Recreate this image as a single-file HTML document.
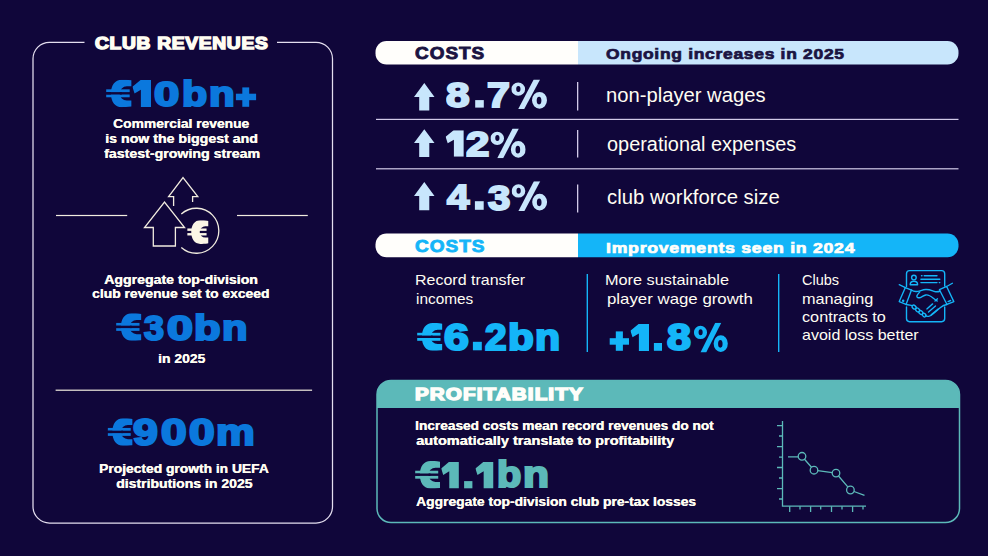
<!DOCTYPE html>
<html><head><meta charset="utf-8">
<style>
html,body{margin:0;padding:0;background:#10063a;}
body{width:988px;height:556px;background:#10063a;position:relative;overflow:hidden;font-family:"Liberation Sans",sans-serif;color:#fffdf2;font-weight:bold;}
.a{position:absolute;white-space:nowrap;}
</style></head><body>

<svg id="shapes_left" class="a" style="left:0;top:0" width="988" height="556">
  <path d="M84.5,42.3 H49.5 A16.5,16.5 0 0 0 33,58.8 V506.5 A16.5,16.5 0 0 0 49.5,523 H316 A16.5,16.5 0 0 0 332.5,506.5 V58.8 A16.5,16.5 0 0 0 316,42.3 H277" fill="none" stroke="#e4deef" stroke-width="1.25"/>
  <g fill="#f1ecdf">
    <rect x="56" y="214.9" width="71.2" height="1.2"/>
    <rect x="237" y="214.9" width="70.8" height="1.2"/>
    <rect x="55.6" y="389.6" width="256.5" height="1.2"/>
  </g>
  <g fill="none" stroke="#f1ecdf" stroke-width="1.3">
    <path d="M173.6,206 V196.6 H168.6 L183,177.5 L197.8,196.6 H192.6 V202"/>
    <path d="M181.3,214 A22.5,22.5 0 1 1 181.3,247.5"/>
    <path d="M153.3,246 V227.5 H144.5 L164.5,202 L184.6,227.5 H175.4 V246 Z"/>
  </g>
</svg>

<svg id="bar1" class="a" style="left:0;top:0" width="988" height="556">
  <defs><clipPath id="cp1"><rect x="375.5" y="41" width="583" height="23.5" rx="11"/></clipPath>
  <clipPath id="cp2"><rect x="375.5" y="233.5" width="583" height="23.8" rx="11"/></clipPath></defs>
  <g clip-path="url(#cp1)"><rect x="375" y="40" width="203" height="26" fill="#fffefb"/><rect x="578" y="40" width="382" height="26" fill="#c8e6fc"/></g>
  <g clip-path="url(#cp2)"><rect x="375" y="232" width="203" height="27" fill="#fffefb"/><rect x="578" y="232" width="382" height="27" fill="#14b5f8"/></g>
</svg>

<svg id="rows" class="a" style="left:0;top:0" width="988" height="556">
  <g fill="#c8e6fc">
    <path d="M424.3,83 L434.5,97 H429.3 V110.5 H419.2 V97 H414 Z"/>
    <path d="M424.3,129.2 L434.5,143 H429.3 V157 H419.2 V143 H414 Z"/>
    <path d="M424.3,182 L434.5,196 H429.3 V210.3 H419.2 V196 H414 Z"/>
  </g>
  <g fill="#d2cae8">
    <rect x="376" y="118.8" width="582.5" height="1.2"/>
    <rect x="376" y="168.2" width="582.5" height="1.2"/>
    <rect x="577" y="82" width="1.3" height="28.5"/>
    <rect x="577" y="130" width="1.3" height="27.5"/>
    <rect x="577" y="184.5" width="1.3" height="28"/>
  </g>
  <g fill="#14b5f8">
    <rect x="586.6" y="274" width="1.4" height="78"/>
    <rect x="778" y="274" width="1.4" height="78"/>
  </g>
</svg>

<svg id="hand" class="a" style="left:0;top:0" width="988" height="556">
  <g fill="none" stroke="#14b5f8" stroke-width="1.4" stroke-linecap="round" stroke-linejoin="round">
    <path d="M906.5,286.5 V273.7 Q906.5,270.6 909.6,270.6 H941.6 Q944.7,270.6 944.7,273.7 V286"/>
    <path d="M906.5,307 V318.6 Q906.5,321.7 909.6,321.7 H941.6 Q944.7,321.7 944.7,318.6 V307"/>
    <circle cx="913.9" cy="277.6" r="2.3"/>
    <path d="M910.2,284.8 Q910.2,281.3 913.9,281.3 Q917.6,281.3 917.6,284.8 Z"/>
    <path d="M924.2,275.8 H937 M920.9,279.3 H939.8 M920.9,282.6 H937"/>
    <path d="M921.5,275.8 h0.5 M939.3,282.6 h0.5"/>
  </g>
  <g transform="translate(897,280) scale(0.07194)" fill="none" stroke="#14b5f8" stroke-width="19" stroke-linecap="round" stroke-linejoin="round">
    <path d="M31,65 L116,105"/>
    <path d="M116,105 L201,140 L126,340 L31,300 Z"/>
    <circle cx="86" cy="290" r="8" fill="#14b5f8"/>
    <path d="M126,340 L200,352"/>
    <ellipse cx="238" cy="377" rx="31" ry="23" transform="rotate(40 238 377)"/>
    <ellipse cx="287" cy="416" rx="31" ry="23" transform="rotate(40 287 416)"/>
    <ellipse cx="332" cy="452" rx="31" ry="23" transform="rotate(40 332 452)"/>
    <ellipse cx="378" cy="487" rx="29" ry="21" transform="rotate(40 378 487)"/>
    <path d="M690,90 L770,45"/>
    <path d="M590,135 L690,90 L790,300 L695,340 Z"/>
    <path d="M710,300 L745,285"/>
    <path d="M201,140 C225,160 250,165 290,158 C330,150 355,135 400,132 C450,128 490,150 525,160 C550,166 575,163 598,156"/>
    <path d="M316,165 C300,185 280,205 276,222 C272,245 295,252 326,243 C350,235 370,212 400,208 C430,204 470,225 505,255 C525,272 545,285 560,292"/>
    <path d="M528,292 L563,262"/>
    <path d="M695,340 C660,345 630,360 600,385 L520,455 C495,478 470,500 440,505 C420,508 400,500 395,490"/>
    <path d="M415,402 L495,332 M438,445 L535,362 M475,482 L572,402"/>
  </g>
</svg>

<svg id="profit" class="a" style="left:0;top:0" width="988" height="556">
  <defs><clipPath id="cp3"><rect x="377" y="380.5" width="582.5" height="142" rx="14"/></clipPath></defs>
  <rect x="375" y="378" width="590" height="30" fill="#5cb9b9" clip-path="url(#cp3)"/>
  <rect x="377" y="380.5" width="582.5" height="142" rx="14" fill="none" stroke="#5cb9b9" stroke-width="1.5"/>
  <g fill="none" stroke="#5cb9b9" stroke-width="1.3">
    <path d="M782.5,421 V506.2 H866"/>
    <path d="M777,425.7 H782.5 M779,436 H782.5 M777,446.6 H782.5 M779,457.2 H782.5 M777,467.5 H782.5 M779,478 H782.5 M777,488.6 H782.5 M779,499 H782.5"/>
    <path d="M789.7,506.2 V512 M800,506.2 V509.5 M810.6,506.2 V512 M820.7,506.2 V509.5 M831.5,506.2 V512 M842,506.2 V509.5 M852.6,506.2 V512 M863,506.2 V509.5"/>
    <path d="M788,456.9 H798.2 M804.5,459.2 L811.5,467.3 M817.8,470.7 L832.2,472.6 M838.5,476 L847.8,486.9 M854,491.5 L864.5,495.4"/>
    <circle cx="802" cy="456.3" r="3.8"/>
    <circle cx="814" cy="470.2" r="3.8"/>
    <circle cx="836" cy="473.1" r="3.8"/>
    <circle cx="850.4" cy="490" r="3.8"/>
  </g>
</svg>

<svg id="euros" class="a" style="left:0;top:0" width="988" height="556">
  <defs>
    <symbol id="eu" viewBox="0 0 25.3 27.7" preserveAspectRatio="none">
      <path d="M25.3,0.6 C21,0 18,0 15.5,0 C8.8,0 4.8,5.6 4.8,13.85 C4.8,22.1 8.8,27.7 15.5,27.7 C18,27.7 21,27.7 25.3,27.1 V21.0 H20.6 A7.15,7.15 0 0 1 20.6,6.7 H25.3 Z"/>
      <rect x="0" y="9.7" width="23.4" height="2.8"/>
      <rect x="0" y="14.9" width="23.4" height="2.8"/>
      <rect x="0" y="12.5" width="15.6" height="2.4" fill="#10063a"/>
    </symbol>
    <symbol id="eu2" viewBox="0 0 25.3 27.7" preserveAspectRatio="none">
      <path d="M25.3,0.8 C21,0 18,0 15.5,0 C8.8,0 4.8,5.6 4.8,13.85 C4.8,22.1 8.8,27.7 15.5,27.7 C18,27.7 21,27.7 25.3,26.9 V20.2 H21.4 A6.4,6.4 0 0 1 21.4,7.1 H25.3 Z"/>
      <rect x="0" y="9.6" width="23" height="2.8"/>
      <rect x="0" y="15" width="23" height="2.8"/>
    </symbol>
  </defs>
  <use href="#eu" x="106.1" y="79.7" width="25.5" height="27.5" fill="#0b78dd"/>
  <use href="#eu" x="116.1" y="313.3" width="25.3" height="27.5" fill="#0b78dd"/>
  <use href="#eu" x="107.6" y="418.3" width="25.0" height="27.5" fill="#0b78dd"/>
  <use href="#eu" x="417.1" y="323.1" width="25.3" height="27.7" fill="#14b5f8"/>
  <use href="#eu" x="415.1" y="461.1" width="25.0" height="27.5" fill="#5cb9b9"/>
  <use href="#eu2" x="187.2" y="220.3" width="21.3" height="23.6" fill="#fbf6e6"/>
</svg>
<svg id="ones" class="a" style="left:0;top:0" width="988" height="556">
  <defs>
    <symbol id="one" viewBox="0 0 18.2 26.5" preserveAspectRatio="none">
      <path d="M8.0,0 H18.2 V26.5 H8.3 V9.4 L2.1,13.1 L0,6.6 Z"/>
    </symbol>
  </defs>
  <use href="#one" x="132.4" y="80.1" width="18.6" height="26.9" fill="#0b78dd"/>
  <use href="#one" x="445.6" y="130.2" width="18.2" height="26.6" fill="#c8e6fc"/>
  <use href="#one" x="630.4" y="324.1" width="18.6" height="26.8" fill="#14b5f8"/>
  <use href="#one" x="441.2" y="461.9" width="17.7" height="26.5" fill="#5cb9b9"/>
  <use href="#one" x="475.4" y="461.9" width="18.1" height="26.5" fill="#5cb9b9"/>
  <rect x="464.1" y="481.1" width="8.3" height="7.2" fill="#5cb9b9"/>
</svg>
<svg id="pcts" class="a" style="left:0;top:0" width="988" height="556">
  <defs>
    <symbol id="pct" viewBox="0 0 35.7 29.7" preserveAspectRatio="none">
      <path fill-rule="evenodd" d="M0,9.75 A6.9,6.65 0 1 0 13.8,9.75 A6.9,6.65 0 1 0 0,9.75 Z M4.9,9.5 A2.15,3.0 0 1 0 9.2,9.5 A2.15,3.0 0 1 0 4.9,9.5 Z"/>
      <path fill-rule="evenodd" d="M20.7,20.9 A7.5,8.4 0 1 0 35.7,20.9 A7.5,8.4 0 1 0 20.7,20.9 Z M25.4,21.15 A2.35,3.85 0 1 0 30.1,21.15 A2.35,3.85 0 1 0 25.4,21.15 Z"/>
      <path d="M22.4,0 H28.8 L12.9,29.7 H6.9 Z"/>
    </symbol>
  </defs>
  <use href="#pct" x="511.3" y="79.4" width="35.7" height="29.7" fill="#c8e6fc"/>
  <use href="#pct" x="490.4" y="128.6" width="35.3" height="29.6" fill="#c8e6fc"/>
  <use href="#pct" x="511.6" y="181.2" width="35.5" height="29.7" fill="#c8e6fc"/>
  <use href="#pct" x="693.9" y="322.7" width="34.0" height="29.7" fill="#14b5f8"/>
  <g fill="#c8e6fc">
    <rect x="475.2" y="100.1" width="8.6" height="7.5"/>
    <rect x="474.9" y="201.2" width="8.8" height="8.6"/>
  </g>
  <g fill="#0b78dd">
    <rect x="235.9" y="93.7" width="20.2" height="6.5"/>
    <rect x="242.3" y="87.4" width="6.9" height="19.4"/>
  </g>
  <g fill="#14b5f8">
    <rect x="609.7" y="338.2" width="19.3" height="6.5"/>
    <rect x="615.8" y="331.4" width="7.1" height="19.4"/>
    <rect x="472.9" y="341.8" width="8.9" height="8.5"/>
    <rect x="653.9" y="343.0" width="8.1" height="7.8"/>
  </g>
</svg>
<div id="t_title" class="a" style="left:95.10px;top:35.04px;font-size:16px;line-height:18.384px;color:#fffdf2;letter-spacing:0.6px;-webkit-text-stroke:1.4px #fffdf2;transform:scale(1.1987,1.0);transform-origin:0 0;">CLUB REVENUES</div>
<div id="g_10_0" class="a" style="left:154.08px;top:74.33px;font-size:35px;line-height:40.215px;color:#0b78dd;-webkit-text-stroke:2.2px #0b78dd;transform:scale(1.2990,1.0);transform-origin:0 0;">0</div>
<div id="g_10_b" class="a" style="left:181.90px;top:73.53px;font-size:35px;line-height:40.215px;color:#0b78dd;-webkit-text-stroke:2.2px #0b78dd;transform:scale(1.1766,1.0);transform-origin:0 0;">b</div>
<div id="g_10_n" class="a" style="left:208.90px;top:73.53px;font-size:35px;line-height:40.215px;color:#0b78dd;-webkit-text-stroke:2.2px #0b78dd;transform:scale(1.2023,1.0);transform-origin:0 0;">n</div>
<div id="t_com1" class="a" style="left:113.03px;top:116.60px;font-size:13px;line-height:14.937px;color:#fffdf2;text-shadow:0.35px 0 0 #fffdf2;transform:scale(1.0638,1.0);transform-origin:0 0;">Commercial revenue</div>
<div id="t_com2" class="a" style="left:105.46px;top:131.60px;font-size:13px;line-height:14.937px;color:#fffdf2;text-shadow:0.35px 0 0 #fffdf2;transform:scale(1.0902,1.0);transform-origin:0 0;">is now the biggest and</div>
<div id="t_com3" class="a" style="left:103.56px;top:146.90px;font-size:13px;line-height:14.937px;color:#fffdf2;text-shadow:0.35px 0 0 #fffdf2;transform:scale(1.0903,1.0);transform-origin:0 0;">fastest-growing stream</div>
<div id="t_agg1" class="a" style="left:104.49px;top:272.60px;font-size:13px;line-height:14.937px;color:#fffdf2;text-shadow:0.35px 0 0 #fffdf2;transform:scale(1.0861,1.0);transform-origin:0 0;">Aggregate top-division</div>
<div id="t_agg2" class="a" style="left:92.49px;top:287.20px;font-size:13px;line-height:14.937px;color:#fffdf2;text-shadow:0.35px 0 0 #fffdf2;transform:scale(1.0665,1.0);transform-origin:0 0;">club revenue set to exceed</div>
<div id="g_30_3" class="a" style="left:143.94px;top:307.73px;font-size:35px;line-height:40.215px;color:#0b78dd;-webkit-text-stroke:2.2px #0b78dd;transform:scale(1.0255,1.0);transform-origin:0 0;">3</div>
<div id="g_30_0" class="a" style="left:166.63px;top:307.73px;font-size:35px;line-height:40.215px;color:#0b78dd;-webkit-text-stroke:2.2px #0b78dd;transform:scale(1.3334,1.0);transform-origin:0 0;">0</div>
<div id="g_30_b" class="a" style="left:194.42px;top:307.73px;font-size:35px;line-height:40.215px;color:#0b78dd;-webkit-text-stroke:2.2px #0b78dd;transform:scale(1.2401,1.0);transform-origin:0 0;">b</div>
<div id="g_30_n" class="a" style="left:221.76px;top:307.73px;font-size:35px;line-height:40.215px;color:#0b78dd;-webkit-text-stroke:2.2px #0b78dd;transform:scale(1.1911,1.0);transform-origin:0 0;">n</div>
<div id="t_in25" class="a" style="left:157.96px;top:352.10px;font-size:13px;line-height:14.937px;color:#fffdf2;text-shadow:0.35px 0 0 #fffdf2;transform:scale(1.0686,1.0);transform-origin:0 0;">in 2025</div>
<div id="g_900_9" class="a" style="left:133.47px;top:411.74px;font-size:36px;line-height:41.364px;color:#0b78dd;-webkit-text-stroke:2.2px #0b78dd;transform:scale(1.2407,1.0);transform-origin:0 0;">9</div>
<div id="g_900_0a" class="a" style="left:161.21px;top:411.74px;font-size:36px;line-height:41.364px;color:#0b78dd;-webkit-text-stroke:2.2px #0b78dd;transform:scale(1.2801,1.0);transform-origin:0 0;">0</div>
<div id="g_900_0b" class="a" style="left:189.41px;top:411.74px;font-size:36px;line-height:41.364px;color:#0b78dd;-webkit-text-stroke:2.2px #0b78dd;transform:scale(1.2801,1.0);transform-origin:0 0;">0</div>
<div id="g_900_m" class="a" style="left:216.40px;top:411.74px;font-size:36px;line-height:41.364px;color:#0b78dd;-webkit-text-stroke:2.2px #0b78dd;transform:scale(1.2098,1.0);transform-origin:0 0;">m</div>
<div id="t_pro1" class="a" style="left:98.96px;top:462.09px;font-size:13px;line-height:14.937px;color:#fffdf2;text-shadow:0.35px 0 0 #fffdf2;transform:scale(1.0625,1.0);transform-origin:0 0;">Projected growth in UEFA</div>
<div id="t_pro2" class="a" style="left:116.02px;top:477.29px;font-size:13px;line-height:14.937px;color:#fffdf2;text-shadow:0.35px 0 0 #fffdf2;transform:scale(1.0787,1.0);transform-origin:0 0;">distributions in 2025</div>
<div id="t_costs1" class="a" style="left:415.10px;top:45.11px;font-size:15.6px;line-height:17.924px;color:#1b1442;letter-spacing:0.8px;-webkit-text-stroke:0.8px #1b1442;transform:scale(1.2160,1.0);transform-origin:0 0;">COSTS</div>
<div id="t_ongo" class="a" style="left:606.04px;top:45.23px;font-size:15px;line-height:17.235px;color:#1b1442;letter-spacing:0.6px;-webkit-text-stroke:0.7px #1b1442;transform:scale(1.1640,1.0);transform-origin:0 0;">Ongoing increases in 2025</div>
<div id="g_87_8" class="a" style="left:445.71px;top:74.72px;font-size:35px;line-height:40.215px;color:#c8e6fc;-webkit-text-stroke:2.0px #c8e6fc;transform:scale(1.2117,1.0);transform-origin:0 0;">8</div>
<div id="g_87_7" class="a" style="left:486.89px;top:74.72px;font-size:35px;line-height:40.215px;color:#c8e6fc;-webkit-text-stroke:2.0px #c8e6fc;transform:scale(1.1763,1.0);transform-origin:0 0;">7</div>
<div id="g_12_2" class="a" style="left:465.54px;top:123.52px;font-size:35px;line-height:40.215px;color:#c8e6fc;-webkit-text-stroke:2.0px #c8e6fc;transform:scale(1.1998,1.0);transform-origin:0 0;">2</div>
<div id="g_43_4" class="a" style="left:447.13px;top:176.73px;font-size:35px;line-height:40.215px;color:#c8e6fc;-webkit-text-stroke:2.0px #c8e6fc;transform:scale(1.1468,1.0);transform-origin:0 0;">4</div>
<div id="g_43_3" class="a" style="left:488.10px;top:177.73px;font-size:35px;line-height:40.215px;color:#c8e6fc;-webkit-text-stroke:2.0px #c8e6fc;transform:scale(1.1476,1.0);transform-origin:0 0;">3</div>
<div id="t_npw" class="a" style="left:606.48px;top:84.30px;font-size:20px;line-height:22.980px;color:#fffdf2;font-weight:normal;transform:scale(1.0105,1.0);transform-origin:0 0;">non-player wages</div>
<div id="t_opx" class="a" style="left:607.00px;top:132.80px;font-size:20px;line-height:22.980px;color:#fffdf2;font-weight:normal;transform:scale(0.9949,1.0);transform-origin:0 0;">operational expenses</div>
<div id="t_cws" class="a" style="left:607.00px;top:186.30px;font-size:20px;line-height:22.980px;color:#fffdf2;font-weight:normal;transform:scale(1.0155,1.0);transform-origin:0 0;">club workforce size</div>
<div id="t_costs2" class="a" style="left:415.10px;top:238.11px;font-size:15.6px;line-height:17.924px;color:#14b5f8;letter-spacing:0.8px;-webkit-text-stroke:0.8px #14b5f8;transform:scale(1.2197,1.0);transform-origin:0 0;">COSTS</div>
<div id="t_impr" class="a" style="left:606.00px;top:239.92px;font-size:14.5px;line-height:16.660px;color:#fffefa;letter-spacing:0.6px;-webkit-text-stroke:0.7px #fffefa;transform:scale(1.2195,1.0);transform-origin:0 0;">Improvements seen in 2024</div>
<div id="t_rt1" class="a" style="left:414.96px;top:271.33px;font-size:15px;line-height:17.235px;color:#fffdf2;font-weight:normal;transform:scale(1.0659,1.0);transform-origin:0 0;">Record transfer</div>
<div id="t_rt2" class="a" style="left:416.01px;top:289.53px;font-size:15px;line-height:17.235px;color:#fffdf2;font-weight:normal;transform:scale(1.0256,1.0);transform-origin:0 0;">incomes</div>
<div id="g_62_6" class="a" style="left:444.11px;top:316.54px;font-size:36px;line-height:41.364px;color:#14b5f8;-webkit-text-stroke:2.2px #14b5f8;transform:scale(1.2416,1.0);transform-origin:0 0;">6</div>
<div id="g_62_2" class="a" style="left:485.48px;top:316.54px;font-size:36px;line-height:41.364px;color:#14b5f8;-webkit-text-stroke:2.2px #14b5f8;transform:scale(1.0753,1.0);transform-origin:0 0;">2</div>
<div id="g_62_b" class="a" style="left:507.83px;top:316.54px;font-size:36px;line-height:41.364px;color:#14b5f8;-webkit-text-stroke:2.2px #14b5f8;transform:scale(1.1719,1.0);transform-origin:0 0;">b</div>
<div id="g_62_n" class="a" style="left:534.92px;top:316.54px;font-size:36px;line-height:41.364px;color:#14b5f8;-webkit-text-stroke:2.2px #14b5f8;transform:scale(1.1415,1.0);transform-origin:0 0;">n</div>
<div id="t_ms1" class="a" style="left:605.42px;top:271.33px;font-size:15px;line-height:17.235px;color:#fffdf2;font-weight:normal;transform:scale(1.0854,1.0);transform-origin:0 0;">More sustainable</div>
<div id="t_ms2" class="a" style="left:606.52px;top:289.53px;font-size:15px;line-height:17.235px;color:#fffdf2;font-weight:normal;transform:scale(1.1217,1.0);transform-origin:0 0;">player wage growth</div>
<div id="g_18_8" class="a" style="left:666.67px;top:316.74px;font-size:36px;line-height:41.364px;color:#14b5f8;-webkit-text-stroke:2.2px #14b5f8;transform:scale(1.1905,1.0);transform-origin:0 0;">8</div>
<div id="t_cl1" class="a" style="left:802.04px;top:271.13px;font-size:15px;line-height:17.235px;color:#fffdf2;font-weight:normal;transform:scale(0.9670,1.0);transform-origin:0 0;">Clubs</div>
<div id="t_cl2" class="a" style="left:802.01px;top:289.53px;font-size:15px;line-height:17.235px;color:#fffdf2;font-weight:normal;transform:scale(1.0836,1.0);transform-origin:0 0;">managing</div>
<div id="t_cl3" class="a" style="left:801.96px;top:307.83px;font-size:15px;line-height:17.235px;color:#fffdf2;font-weight:normal;transform:scale(1.0811,1.0);transform-origin:0 0;">contracts to</div>
<div id="t_cl4" class="a" style="left:801.96px;top:326.33px;font-size:15px;line-height:17.235px;color:#fffdf2;font-weight:normal;transform:scale(1.0683,1.0);transform-origin:0 0;">avoid loss better</div>
<div id="t_prof" class="a" style="left:415.13px;top:384.98px;font-size:16.3px;line-height:18.729px;color:#fffefa;letter-spacing:0.9px;-webkit-text-stroke:1.4px #fffefa;transform:scale(1.2644,1.0);transform-origin:0 0;">PROFITABILITY</div>
<div id="t_inc1" class="a" style="left:415.48px;top:419.09px;font-size:13px;line-height:14.937px;color:#fffdf2;text-shadow:0.35px 0 0 #fffdf2;transform:scale(1.0514,1.0);transform-origin:0 0;">Increased costs mean record revenues do not</div>
<div id="t_inc2" class="a" style="left:415.58px;top:433.69px;font-size:13px;line-height:14.937px;color:#fffdf2;text-shadow:0.35px 0 0 #fffdf2;transform:scale(1.1160,1.0);transform-origin:0 0;">automatically translate to profitability</div>
<div id="g_11_b" class="a" style="left:496.87px;top:454.34px;font-size:36px;line-height:41.364px;color:#5cb9b9;-webkit-text-stroke:2.2px #5cb9b9;transform:scale(1.1039,1.0);transform-origin:0 0;">b</div>
<div id="g_11_n" class="a" style="left:523.39px;top:454.34px;font-size:36px;line-height:41.364px;color:#5cb9b9;-webkit-text-stroke:2.2px #5cb9b9;transform:scale(1.1810,1.0);transform-origin:0 0;">n</div>
<div id="t_aggl" class="a" style="left:415.51px;top:495.09px;font-size:13px;line-height:14.937px;color:#fffdf2;text-shadow:0.35px 0 0 #fffdf2;transform:scale(1.0645,1.0);transform-origin:0 0;">Aggregate top-division club pre-tax losses</div>

</body></html>
